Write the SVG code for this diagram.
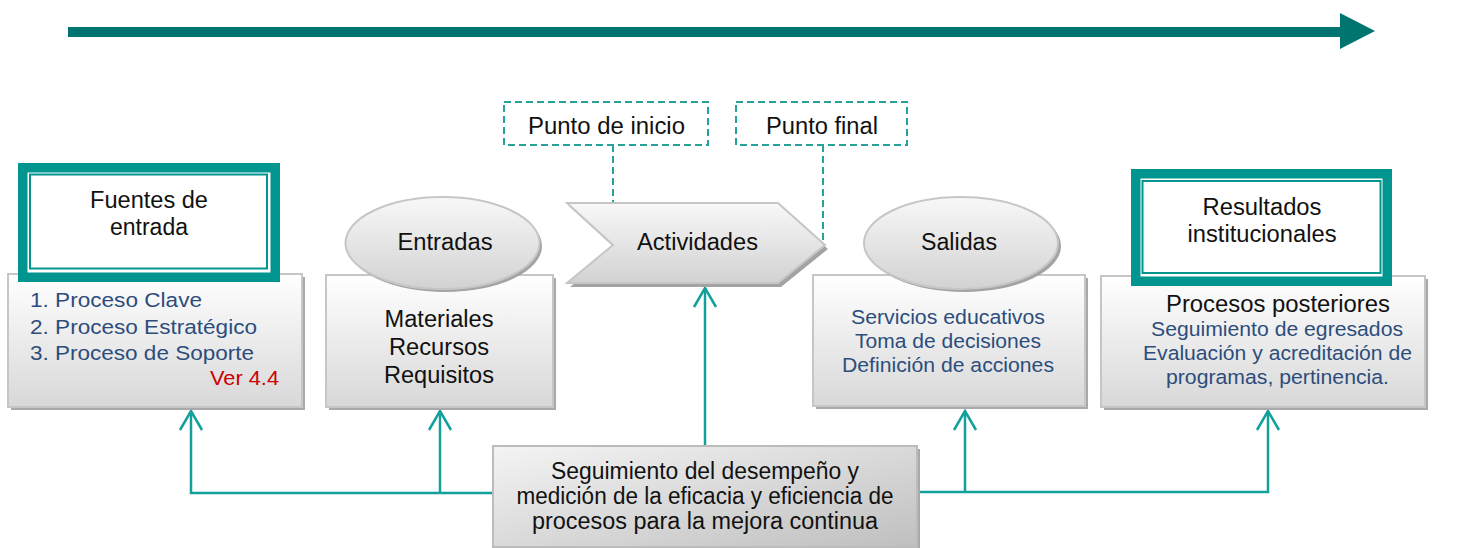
<svg xmlns="http://www.w3.org/2000/svg" width="1461" height="548" viewBox="0 0 1461 548">
<defs>
<style>
text{font-family:"Liberation Sans",Arial,sans-serif;}
.h{font-size:23px;fill:#111;text-anchor:middle;}
.b{font-size:20.5px;fill:#2c4d7c;text-anchor:middle;}
.box{fill:url(#g);stroke:#c6c6c6;stroke-width:2;}
.sh{fill:#a9a9a9;}
.frame{fill:#fff;stroke:#00968f;stroke-width:9.5;}
.thin{fill:none;stroke:#00968f;stroke-width:2;}
.dash{fill:#fff;stroke:#26a29c;stroke-width:2;stroke-dasharray:7,4;}
.dl{fill:none;stroke:#26a29c;stroke-width:2;stroke-dasharray:7,4;}
.con{fill:none;stroke:#14a09a;stroke-width:2.5;}
</style>
<linearGradient id="g" x1="0" y1="0" x2="0" y2="1">
<stop offset="0" stop-color="#ffffff"/>
<stop offset="1" stop-color="#d8d8d8"/>
</linearGradient>
<linearGradient id="ge" x1="0" y1="0" x2="0" y2="1">
<stop offset="0" stop-color="#f8f8f8"/>
<stop offset="1" stop-color="#d2d2d2"/>
</linearGradient>
<linearGradient id="gc" x1="0" y1="0" x2="1" y2="1">
<stop offset="0" stop-color="#f4f4f4"/>
<stop offset="1" stop-color="#bfbfbf"/>
</linearGradient>
<marker id="arr" markerUnits="userSpaceOnUse" viewBox="0 0 24 26" markerWidth="24" markerHeight="26" refX="21" refY="13" orient="auto">
<path d="M2,2 L21,13 L2,24" fill="none" stroke="#14a09a" stroke-width="2.5"/>
</marker>
</defs>
<rect width="1461" height="548" fill="#fff"/>

<g id="timeline">
<rect x="68" y="27" width="1274" height="10" fill="#00756f"/>
<polygon points="1340,13 1375,31 1340,49" fill="#00756f"/>
</g>

<g id="connectors">
<path class="con" d="M493,493 H191 V411" marker-end="url(#arr)"/>
<path class="con" d="M440,493 V411" marker-end="url(#arr)"/>
<path class="con" d="M705,446 V288" marker-end="url(#arr)"/>
<path class="con" d="M917,492 H1268 V411" marker-end="url(#arr)"/>
<path class="con" d="M965,492 V411" marker-end="url(#arr)"/>
<path class="dl" d="M613,145 V245"/>
<path class="dl" d="M823,145 V243"/>
</g>

<g id="fuentes">
<rect class="sh" x="11" y="277" width="294" height="133"/>
<rect class="box" x="8" y="274" width="294" height="133"/>
<text x="30" y="307" class="b" style="text-anchor:start" textLength="172" lengthAdjust="spacingAndGlyphs">1. Proceso Clave</text>
<text x="30" y="334" class="b" style="text-anchor:start" textLength="227" lengthAdjust="spacingAndGlyphs">2. Proceso Estratégico</text>
<text x="30" y="360" class="b" style="text-anchor:start" textLength="224" lengthAdjust="spacingAndGlyphs">3. Proceso de Soporte</text>
<text x="279" y="385" class="b" style="text-anchor:end;fill:#cc0000" textLength="69" lengthAdjust="spacingAndGlyphs">Ver 4.4</text>
<rect class="frame" x="22.75" y="167.75" width="252.5" height="109.5"/>
<rect class="thin" x="30" y="174.5" width="237" height="94"/>
<text x="149" y="208" class="h" textLength="118" lengthAdjust="spacingAndGlyphs">Fuentes de</text>
<text x="149" y="235" class="h" textLength="78" lengthAdjust="spacingAndGlyphs">entrada</text>
</g>

<g id="entradas">
<rect class="sh" x="329" y="278" width="227" height="132"/>
<rect class="box" x="326" y="275" width="227" height="132"/>
<text x="439" y="327" class="h" textLength="109" lengthAdjust="spacingAndGlyphs">Materiales</text>
<text x="439" y="355" class="h" textLength="100" lengthAdjust="spacingAndGlyphs">Recursos</text>
<text x="439" y="383" class="h" textLength="110" lengthAdjust="spacingAndGlyphs">Requisitos</text>
<ellipse cx="445" cy="246" rx="97" ry="46" fill="#a3a3a3"/>
<ellipse cx="442.5" cy="243" rx="97" ry="46" fill="url(#ge)" stroke="#c6c6c6" stroke-width="2"/>
<text x="445" y="250" class="h" textLength="95" lengthAdjust="spacingAndGlyphs">Entradas</text>
</g>

<g id="actividades">
<polygon points="570,207 781,207 828,249 781,287 570,287 616,249" fill="#a3a3a3"/>
<polygon points="567,203 778,203 825,245 778,283 567,283 613,245" fill="url(#ge)" stroke="#c6c6c6" stroke-width="2"/>
<text x="697.5" y="250" class="h" textLength="121" lengthAdjust="spacingAndGlyphs">Actividades</text>
</g>

<g id="punto-inicio">
<rect class="dash" x="504" y="102" width="204" height="43"/>
<text x="606.5" y="134" class="h" textLength="157" lengthAdjust="spacingAndGlyphs">Punto de inicio</text>
</g>

<g id="punto-final">
<rect class="dash" x="736" y="102" width="171" height="43"/>
<text x="822" y="134" class="h" textLength="112" lengthAdjust="spacingAndGlyphs">Punto final</text>
</g>

<g id="salidas">
<rect class="sh" x="816" y="278" width="272" height="131"/>
<rect class="box" x="813" y="275" width="272" height="131"/>
<text x="948" y="324" class="b" textLength="194" lengthAdjust="spacingAndGlyphs">Servicios educativos</text>
<text x="948" y="348" class="b" textLength="186" lengthAdjust="spacingAndGlyphs">Toma de decisiones</text>
<text x="948" y="372" class="b" textLength="212" lengthAdjust="spacingAndGlyphs">Definición de acciones</text>
<ellipse cx="964" cy="246" rx="97" ry="46" fill="#a3a3a3"/>
<ellipse cx="961" cy="243" rx="97" ry="46" fill="url(#ge)" stroke="#c6c6c6" stroke-width="2"/>
<text x="959" y="250" class="h" textLength="76" lengthAdjust="spacingAndGlyphs">Salidas</text>
</g>

<g id="resultados">
<rect class="sh" x="1104" y="279" width="324" height="131"/>
<rect class="box" x="1101" y="276" width="324" height="131"/>
<text x="1278" y="312" class="h" textLength="224" lengthAdjust="spacingAndGlyphs">Procesos posteriores</text>
<text x="1277" y="336" class="b" textLength="252" lengthAdjust="spacingAndGlyphs">Seguimiento de egresados</text>
<text x="1277.5" y="360" class="b" textLength="269" lengthAdjust="spacingAndGlyphs">Evaluación y acreditación de</text>
<text x="1277.5" y="384" class="b" textLength="223" lengthAdjust="spacingAndGlyphs">programas, pertinencia.</text>
<rect class="frame" x="1135.75" y="173.75" width="251.5" height="107.5"/>
<rect class="thin" x="1142.5" y="181" width="238" height="92"/>
<text x="1262" y="215" class="h" textLength="119" lengthAdjust="spacingAndGlyphs">Resultados</text>
<text x="1262" y="242" class="h" textLength="149" lengthAdjust="spacingAndGlyphs">institucionales</text>
</g>

<g id="seguimiento">
<rect class="sh" x="496" y="449" width="424" height="102"/>
<rect x="493" y="446" width="424" height="101" fill="url(#gc)" stroke="#bcbcbc" stroke-width="2"/>
<text x="705" y="479" class="h" textLength="308" lengthAdjust="spacingAndGlyphs">Seguimiento del desempeño y</text>
<text x="705" y="504" class="h" textLength="377" lengthAdjust="spacingAndGlyphs">medición de la eficacia y eficiencia de</text>
<text x="705" y="529" class="h" textLength="346" lengthAdjust="spacingAndGlyphs">procesos para la mejora continua</text>
</g>
</svg>
